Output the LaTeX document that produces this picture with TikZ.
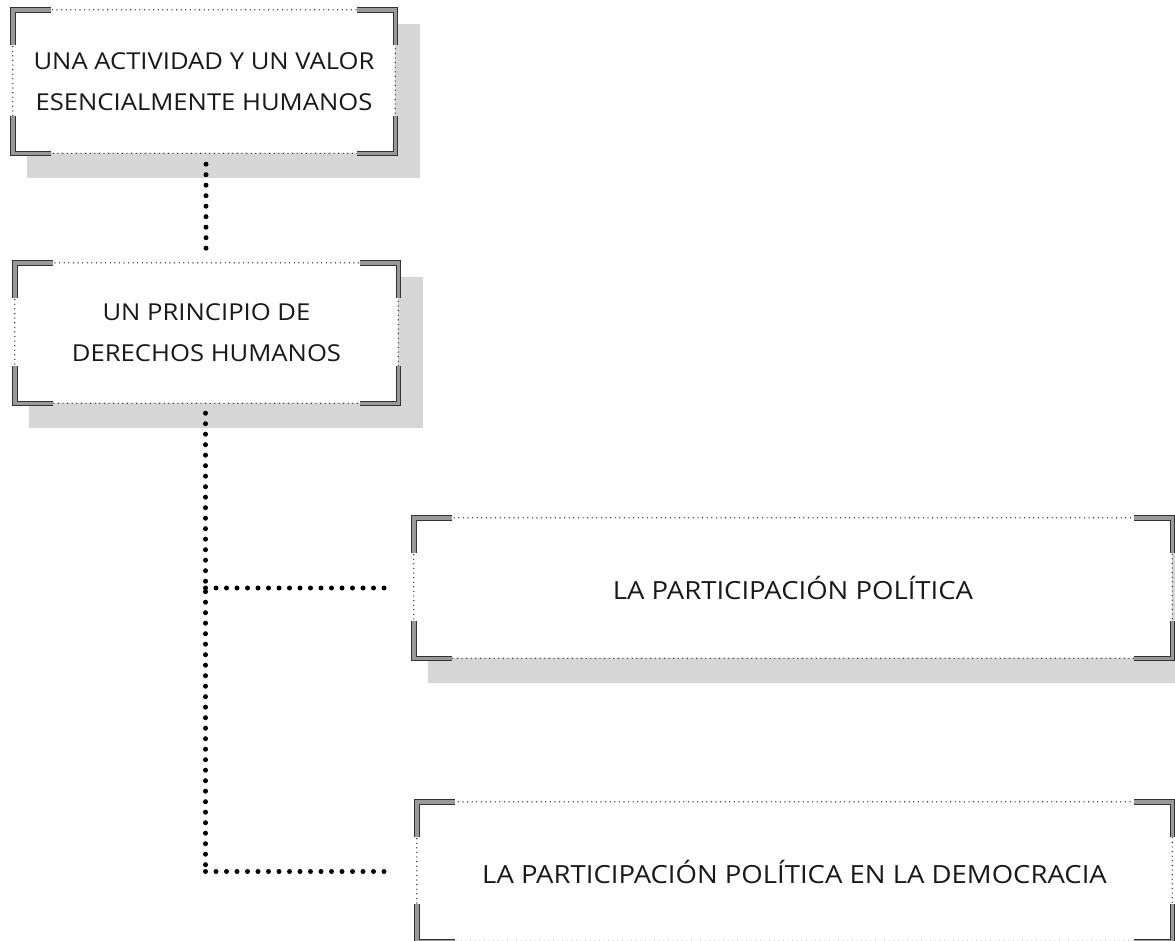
\documentclass[tikz,border=0pt]{standalone}
\usepackage{fontspec}
\setmainfont{Open Sans}[FakeStretch=1.1]
\usetikzlibrary{calc,backgrounds}
\tikzset{
  box/.style={draw=none, inner sep=0pt, align=center, font=\fontsize{25}{41}\selectfont, text=black!90},
  smallbox/.style={box, font=\fontsize{23.3}{41}\selectfont},
  edgedots/.style={black!85, line width=1.4pt, line cap=round, dash pattern=on 0pt off 4.6pt},
  corner/.style={draw=black!80, line width=1pt, double=black!40, double distance=3.4pt, line cap=butt, line join=miter},
  bigdots/.style={black, line width=5pt, line cap=round, dash pattern=on 0pt off 10.5pt},
  shadowfill/.style={fill=black!16, draw=none},
}
\newcommand{\cornerbox}[1]{%
  \draw[edgedots] (#1.north west) rectangle (#1.south east);
  \draw[corner] ([yshift=-35pt]#1.north west) -- (#1.north west) -- ([xshift=38pt]#1.north west);
  \draw[corner] ([yshift=-35pt]#1.north east) -- (#1.north east) -- ([xshift=-38pt]#1.north east);
  \draw[corner] ([yshift=37pt]#1.south west) -- (#1.south west) -- ([xshift=38pt]#1.south west);
  \draw[corner] ([yshift=37pt]#1.south east) -- (#1.south east) -- ([xshift=-38pt]#1.south east);
}
\begin{document}
\begin{tikzpicture}[x=1pt,y=-1pt]
\useasboundingbox (0,0) rectangle (1175,940);

\node[smallbox, minimum width=382pt, minimum height=143pt] (b1) at (204,81.5) {UNA ACTIVIDAD Y UN VALOR\\ESENCIALMENTE HUMANOS};
\node[smallbox, minimum width=383pt, minimum height=140pt] (b2) at (206.5,333) {UN PRINCIPIO DE\\DERECHOS HUMANOS};
\node[box, minimum width=758pt, minimum height=140pt] (b3) at (793,588) {LA PARTICIPACIÓN POLÍTICA};
\node[box, minimum width=755pt, minimum height=139pt] (b4) at (794.5,871.5) {LA PARTICIPACIÓN POLÍTICA EN LA DEMOCRACIA};

\begin{scope}[on background layer]
  \fill[white] (0,0) rectangle (1175,940);
  \foreach \n in {b1,b2,b3} {
    \fill[shadowfill] ([xshift=14pt,yshift=-14pt]\n.north west) rectangle ([xshift=25pt,yshift=-25pt]\n.south east);
    \fill[white] (\n.north west) rectangle (\n.south east);
  }
  \fill[white] (b4.north west) rectangle (b4.south east);
\end{scope}

\foreach \n in {b1,b2,b3,b4} {\cornerbox{\n}}

\coordinate (t0) at ([xshift=2pt,yshift=-11pt]b1.south);
\coordinate (t1) at (t0 |- b2.north);
\coordinate (s0) at ([xshift=-1pt,yshift=-10pt]b2.south);
\coordinate (j1) at (s0 |- b3.west);
\coordinate (j2) at (s0 |- b4.west);
\coordinate (e1) at ([xshift=-25pt]b3.west);
\coordinate (e2) at ([xshift=-25pt]b4.west);

\draw[bigdots] (t0) -- ([yshift=8pt]t1);
\draw[bigdots] (s0) -- (j2);
\draw[bigdots] (j1) -- (e1);
\draw[bigdots] (j2) -- (e2);
\end{tikzpicture}
\end{document}
